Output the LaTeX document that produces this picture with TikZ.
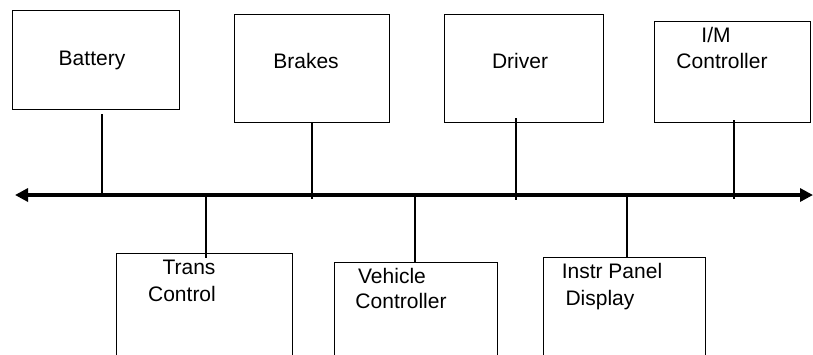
\documentclass[tikz,border=0pt]{standalone}
\usepackage{fontspec}
\setmainfont{Liberation Sans}
\usetikzlibrary{arrows.meta}
\begin{document}
\begin{tikzpicture}[x=1pt,y=-1pt,
  box/.style={draw,line width=1.4pt,anchor=north west,inner sep=0pt},
  lbl/.style={anchor=base,inner sep=0pt,font=\fontsize{21}{24}\selectfont},
  link/.style={line width=1.3pt},
  busline/.style={line width=3.2pt,{Triangle[length=13pt,width=13pt]}-{Triangle[length=13pt,width=13pt]}}]
\clip (0,0) rectangle (813,354);
\fill[white] (0,0) rectangle (813,354);
% top boxes
\node[box,minimum width=167pt,minimum height=99pt] (bat) at (12,10) {};
\node[box,minimum width=155pt,minimum height=108pt] (brk) at (234,14) {};
\node[box,minimum width=159pt,minimum height=108pt] (drv) at (444,14) {};
\node[box,minimum width=156pt,minimum height=101pt] (im) at (654,21) {};
% bottom boxes (cut off by the lower edge)
\node[box,minimum width=176pt,minimum height=140pt] (trn) at (116,253) {};
\node[box,minimum width=163pt,minimum height=140pt] (veh) at (334,262) {};
\node[box,minimum width=162pt,minimum height=140pt] (ins) at (543,257) {};
% labels
\node[lbl] (tbat) at (92,65) {Battery};
\node[lbl] (tbrk) at (306,68) {Brakes};
\node[lbl] (tdrv) at (520,68) {Driver};
\node[lbl] (tim1) at (716,42) {I/M};
\node[lbl] (tim2) at (722,68) {Controller};
\node[lbl] (ttrn1) at (189,274) {Trans};
\node[lbl] (ttrn2) at (182,301) {Control};
\node[lbl] (tveh1) at (392,283) {Vehicle};
\node[lbl] (tveh2) at (401,308) {Controller};
\node[lbl] (tins1) at (612,278) {Instr Panel};
\node[lbl] (tins2) at (600,305) {Display};
% bus
\coordinate (L) at (15,195);
\coordinate (R) at (813,195);
\draw[busline] (L) -- (R);
% drops
\coordinate (c1) at (102,195);
\coordinate (c2) at (312,199);
\coordinate (c3) at (516,200);
\coordinate (c4) at (734,199);
\coordinate (c5) at (206,195);
\coordinate (c6) at (415,195);
\coordinate (c7) at (627,195);
\draw[link] ([yshift=-4pt]bat.south -| c1) -- (c1);
\draw[link] (brk.south -| c2) -- (c2);
\draw[link] ([yshift=5pt]drv.south -| c3) -- (c3);
\draw[link] ([yshift=3pt]im.south -| c4) -- (c4);
\draw[link] (c5) -- ([yshift=-5pt]trn.north -| c5);
\draw[link] (c6) -- (veh.north -| c6);
\draw[link] (c7) -- (ins.north -| c7);
\end{tikzpicture}
\end{document}
